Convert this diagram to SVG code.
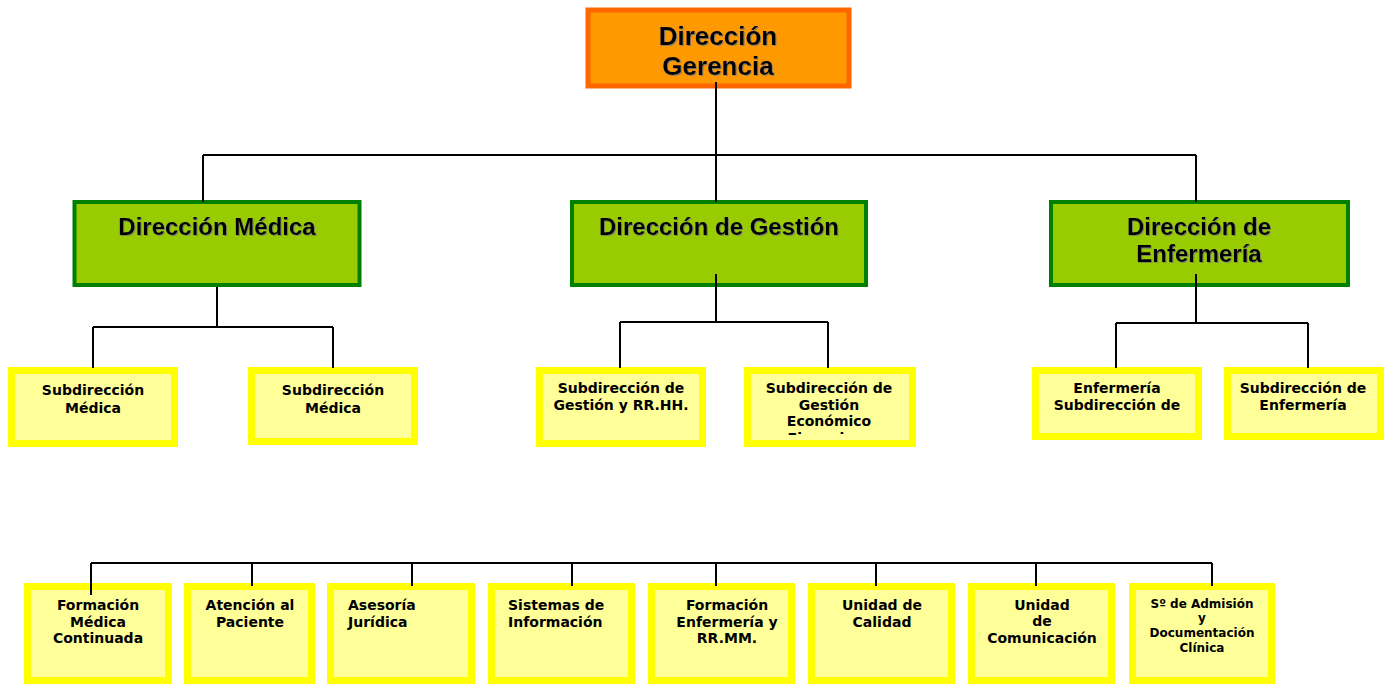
<svg xmlns="http://www.w3.org/2000/svg" width="1390" height="684" viewBox="0 0 1390 684">
<defs>
<style>
.top{fill:#FF9900;stroke:#FF6600;stroke-width:5}
.dir{fill:#99CC00;stroke:#008000;stroke-width:4}
.sub{fill:#FFFF99;stroke:#FFFF00;stroke-width:7}
.h1{font-family:"Liberation Sans",Arial,sans-serif;font-weight:bold;font-size:26px;fill:#000;text-anchor:middle;filter:url(#sh)}
.h2{font-family:"Liberation Sans",Arial,sans-serif;font-weight:bold;font-size:24px;fill:#000;text-anchor:middle;filter:url(#sh)}
.t{font-family:"DejaVu Sans",Verdana,sans-serif;font-weight:bold;font-size:14px;fill:#000;text-anchor:middle}
.tl{font-family:"DejaVu Sans",Verdana,sans-serif;font-weight:bold;font-size:14px;fill:#000}
.ts{font-family:"DejaVu Sans",Verdana,sans-serif;font-weight:bold;font-size:12px;fill:#000;text-anchor:middle}
.c{fill:none;stroke:#000;stroke-width:2}
</style>
<filter id="sh" x="-10%" y="-30%" width="120%" height="160%">
<feDropShadow dx="1" dy="1" stdDeviation="0.3" flood-color="#777" flood-opacity="0.8"/>
</filter>
<clipPath id="clip4"><rect x="751" y="374" width="158" height="61"/></clipPath>
</defs>

<g id="gerencia">
<rect class="top" x="588" y="10" width="261" height="76"/>
<text class="h1" x="718" y="45">Dirección</text>
<text class="h1" x="718" y="75">Gerencia</text>
</g>

<g id="dir-medica">
<rect class="dir" x="74.5" y="202" width="285" height="83"/>
<text class="h2" x="217" y="235">Dirección Médica</text>
</g>
<g id="dir-gestion">
<rect class="dir" x="572" y="202" width="294" height="83"/>
<text class="h2" x="719" y="235">Dirección de Gestión</text>
</g>
<g id="dir-enfermeria">
<rect class="dir" x="1051" y="202" width="297" height="83"/>
<text class="h2" x="1199" y="235">Dirección de</text>
<text class="h2" x="1199" y="262">Enfermería</text>
</g>

<g id="sub-medica-1">
<rect class="sub" x="11.5" y="370.5" width="163" height="73"/>
<text class="t" x="93" y="395">Subdirección</text>
<text class="t" x="93" y="413">Médica</text>
</g>
<g id="sub-medica-2">
<rect class="sub" x="251.5" y="370.5" width="163" height="71"/>
<text class="t" x="333" y="395">Subdirección</text>
<text class="t" x="333" y="413">Médica</text>
</g>
<g id="sub-gestion-rrhh">
<rect class="sub" x="539.5" y="370.5" width="163" height="73"/>
<text class="t" x="621" y="393">Subdirección de</text>
<text class="t" x="621" y="410">Gestión y RR.HH.</text>
</g>
<g id="sub-gestion-eco">
<rect class="sub" x="747.5" y="370.5" width="165" height="73"/>
<text class="t" x="829" y="393">Subdirección de</text>
<text class="t" x="829" y="410">Gestión</text>
<text class="t" x="829" y="426">Económico</text>
<text class="t" x="829" y="443" clip-path="url(#clip4)">Financiero</text>
</g>
<g id="sub-enf-1">
<rect class="sub" x="1035.5" y="370.5" width="163" height="66"/>
<text class="t" x="1117" y="393">Enfermería</text>
<text class="t" x="1117" y="410">Subdirección de</text>
</g>
<g id="sub-enf-2">
<rect class="sub" x="1227.5" y="370.5" width="153" height="66"/>
<text class="t" x="1303" y="393">Subdirección de</text>
<text class="t" x="1303" y="410">Enfermería</text>
</g>

<g id="formacion-medica">
<rect class="sub" x="27.5" y="586.5" width="141" height="94"/>
<text class="t" x="98" y="610">Formación</text>
<text class="t" x="98" y="627">Médica</text>
<text class="t" x="98" y="643">Continuada</text>
</g>
<g id="atencion-paciente">
<rect class="sub" x="187.5" y="586.5" width="124" height="94"/>
<text class="t" x="250" y="610">Atención al</text>
<text class="t" x="250" y="627">Paciente</text>
</g>
<g id="asesoria">
<rect class="sub" x="330.5" y="586.5" width="141" height="94"/>
<text class="tl" x="348" y="610">Asesoría</text>
<text class="tl" x="348" y="627">Jurídica</text>
</g>
<g id="sistemas">
<rect class="sub" x="491.5" y="586.5" width="140" height="94"/>
<text class="tl" x="508" y="610">Sistemas de</text>
<text class="tl" x="508" y="627">Información</text>
</g>
<g id="formacion-enf">
<rect class="sub" x="651.5" y="586.5" width="140" height="94"/>
<text class="t" x="727" y="610">Formación</text>
<text class="t" x="727" y="627">Enfermería y</text>
<text class="t" x="727" y="643">RR.MM.</text>
</g>
<g id="calidad">
<rect class="sub" x="811.5" y="586.5" width="140" height="94"/>
<text class="t" x="882" y="610">Unidad de</text>
<text class="t" x="882" y="627">Calidad</text>
</g>
<g id="comunicacion">
<rect class="sub" x="971.5" y="586.5" width="140" height="94"/>
<text class="t" x="1042" y="610">Unidad</text>
<text class="t" x="1042" y="626">de</text>
<text class="t" x="1042" y="643">Comunicación</text>
</g>
<g id="admision">
<rect class="sub" x="1132.5" y="586.5" width="139" height="94"/>
<text class="ts" x="1202" y="608">Sº de Admisión</text>
<text class="ts" x="1202" y="622">y</text>
<text class="ts" x="1202" y="637">Documentación</text>
<text class="ts" x="1202" y="652">Clínica</text>
</g>

<g id="connectors">
<path class="c" d="M716 82V155M203 155H1196M203 155V202M716 155V202M1196 155V202"/>
<path class="c" d="M217 287V327M93 327H333M93 327V368M333 327V368"/>
<path class="c" d="M716 274V322M620 322H828M620 322V368M828 322V368"/>
<path class="c" d="M1196 274V323M1116 323H1308M1116 323V368M1308 323V368"/>
<path class="c" d="M91 563H1212M91 563V595M252 563V586M412 563V586M572 563V586M716 563V586M876 563V586M1036 563V586M1212 563V586"/>
</g>
</svg>
